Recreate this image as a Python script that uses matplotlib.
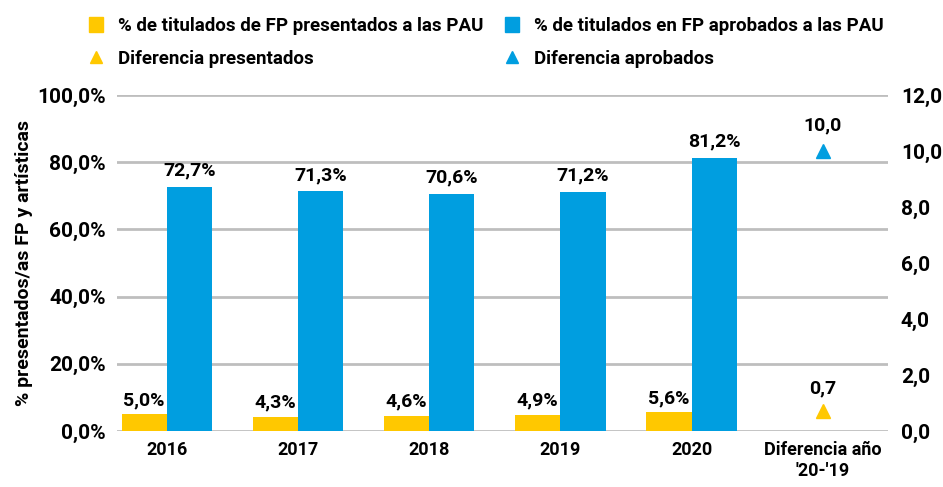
import matplotlib
matplotlib.use("Agg")
import matplotlib.pyplot as plt
from matplotlib.patches import Patch
from matplotlib.lines import Line2D
import numpy as np

plt.rcParams['font.family'] = ['Roboto', 'DejaVu Sans']
plt.rcParams['font.stretch'] = 'condensed'

categories = ["2016", "2017", "2018", "2019", "2020", "Diferencia año\n'20-'19"]
presentados = [5.0, 4.3, 4.6, 4.9, 5.6]
aprobados = [72.7, 71.3, 70.6, 71.2, 81.2]
dif_presentados = 0.7
dif_aprobados = 10.0

yellow = "#FFC800"
blue = "#009EE0"
grid_color = "#BEBEBE"


def fmt(v, pct=True):
    s = f"{v:.1f}".replace(".", ",")
    return s + "%" if pct else s


fig = plt.figure(figsize=(9.43, 4.87), dpi=100)
ax = fig.add_axes([0.124, 0.115, 0.818, 0.69])
ax2 = ax.twinx()

x = np.arange(len(presentados))
w = 0.345
ax.bar(x - w / 2, presentados, w, color=yellow, zorder=3)
ax.bar(x + w / 2, aprobados, w, color=blue, zorder=3)
for i in range(len(x)):
    ax.text(x[i] - w / 2, presentados[i] + 1.5, fmt(presentados[i]), ha="center",
            va="bottom", fontsize=14, fontweight="bold")
    ax.text(x[i] + w / 2, aprobados[i] + 2.2, fmt(aprobados[i]), ha="center",
            va="bottom", fontsize=14, fontweight="bold")

ax.set_ylim(0, 100)
ax.set_xlim(-0.38, 5.5)
ax.set_yticks(np.arange(0, 101, 20))
ax.set_yticklabels([fmt(v) for v in np.arange(0, 101, 20)], fontsize=15, fontweight="bold")
ax.set_xticks(np.arange(len(categories)))
ax.set_xticklabels(categories, fontsize=13, fontweight="bold")
ax.yaxis.grid(True, color=grid_color, linewidth=2, zorder=0)
ax.set_axisbelow(True)
ax.tick_params(length=0, pad=8)
ax.tick_params(axis="x", pad=7)
ax.set_ylabel("% presentados/as FP y artísticas", fontsize=14, fontweight="semibold", labelpad=3)
for sp in ax.spines.values():
    sp.set_visible(False)

# diferencias en eje derecho
xd = len(categories) - 1
ax2.plot([xd], [dif_aprobados], marker="^", color=blue, markersize=10, linestyle="none")
ax2.plot([xd], [dif_presentados], marker="^", color=yellow, markersize=10, linestyle="none")
ax2.text(xd, dif_aprobados + 0.6, fmt(dif_aprobados, False), ha="center", va="bottom",
         fontsize=14, fontweight="bold")
ax2.text(xd, dif_presentados + 0.5, fmt(dif_presentados, False), ha="center", va="bottom",
         fontsize=14, fontweight="bold")
ax2.set_ylim(0, 12)
ax2.set_yticks(np.arange(0, 13, 2))
ax2.set_yticklabels([fmt(v, False) for v in np.arange(0, 13, 2)], fontsize=15, fontweight="bold")
ax2.tick_params(length=0, pad=9)
for sp in ax2.spines.values():
    sp.set_visible(False)

handles = [Patch(color=yellow), Line2D([], [], marker="^", color=yellow, linestyle="none", markersize=8),
           Patch(color=blue), Line2D([], [], marker="^", color=blue, linestyle="none", markersize=8)]
labels = ["% de titulados de FP presentados a las PAU", "Diferencia presentados",
          "% de titulados en FP aprobados a las PAU", "Diferencia aprobados"]
leg = fig.legend(handles, labels, loc="upper left", bbox_to_anchor=(0.077, 1.0), ncol=2,
                 frameon=False, prop={"size": 13.5, "weight": "semibold"}, handlelength=0.7,
                 handleheight=0.8, handletextpad=0.8, columnspacing=1.2, labelspacing=0.8)

plt.savefig("out.png", dpi=100)
